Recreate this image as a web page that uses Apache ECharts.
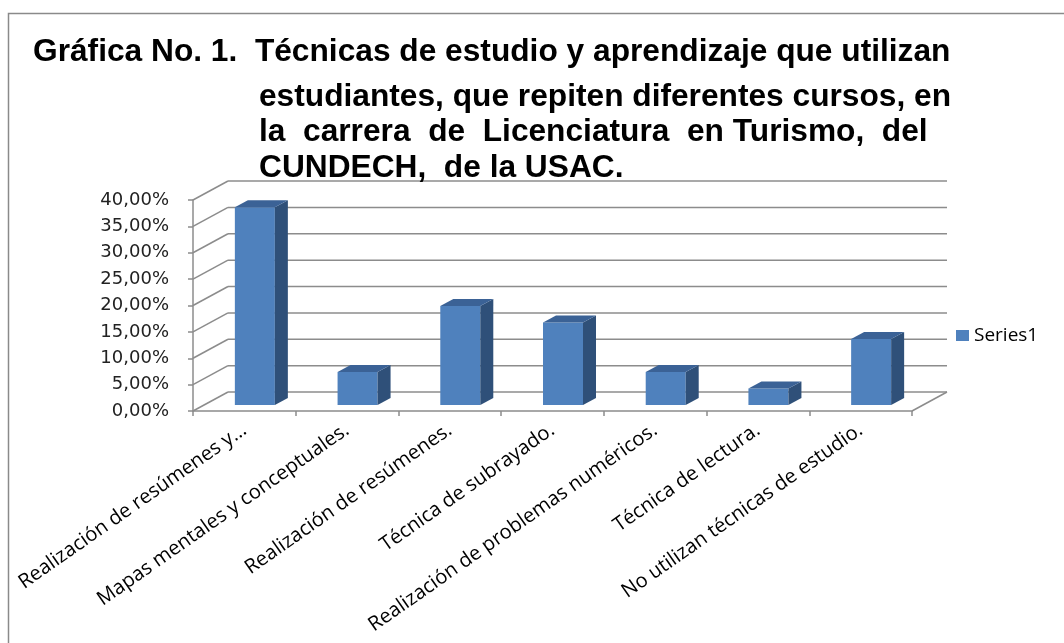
<!DOCTYPE html>
<html lang="es">
<head>
<meta charset="UTF-8">
<title>Gráfica No. 1</title>
<script src="https://cdn.jsdelivr.net/npm/echarts@6/dist/echarts.min.js"></script>
<style>
html, body { margin: 0; padding: 0; background: #fff; }
#chart { width: 1064px; height: 643px; }
</style>
</head>
<body>
<div id="chart"></div>
<script>
// datos
var categorias = [
    'Realización de resúmenes y…',
    'Mapas mentales y conceptuales.',
    'Realización de resúmenes.',
    'Técnica de subrayado.',
    'Realización de problemas numéricos.',
    'Técnica de lectura.',
    'No utilizan técnicas de estudio.'
];
var series1 = [0.375, 0.0625, 0.1875, 0.15625, 0.0625, 0.03125, 0.125];
var yTicks = [0, 0.05, 0.10, 0.15, 0.20, 0.25, 0.30, 0.35, 0.40];

var tituloLineas = [
    'Gráfica No. 1.  Técnicas de estudio y aprendizaje que utilizan',
    'estudiantes, que repiten diferentes cursos, en',
    'la  carrera  de  Licenciatura  en Turismo,  del',
    'CUNDECH,  de la USAC.'
];

// profundidad del "3D"
var DX = 35, DY = -19;
var gridColor = '#8c8c8c';

var chart = echarts.init(document.getElementById('chart'));

function renderWalls(params, api) {
    var cs = params.coordSys;
    var v = api.value(1);
    var y = api.coord([0, v])[1];
    var x0 = cs.x, x1 = cs.x + cs.width;
    var children = [
        { type: 'line', shape: { x1: x0, y1: y, x2: x0 + DX, y2: y + DY },
          style: { stroke: gridColor, lineWidth: 1.5 } },
        { type: 'line', shape: { x1: x0 + DX, y1: y + DY, x2: x1 + DX, y2: y + DY },
          style: { stroke: gridColor, lineWidth: 1.5 } }
    ];
    if (v === 0) {
        children.push({ type: 'line', shape: { x1: x1, y1: y, x2: x1 + DX, y2: y + DY },
            style: { stroke: gridColor, lineWidth: 1.5 } });
    }
    return { type: 'group', children: children };
}

function renderBar(params, api) {
    var i = api.value(0);
    var base = api.coord([i, 0]);
    var top = api.coord([i, api.value(1)]);
    var w = 40, dx = 13, dy = -7;
    var x0 = base[0] - 9.5, x1 = x0 + w;
    var yB = base[1] - 6, yT = top[1] - 6;
    return {
        type: 'group',
        children: [
            { type: 'rect', shape: { x: x0, y: yT, width: w, height: yB - yT },
              style: { fill: '#4F81BD' } },
            { type: 'polygon', shape: { points: [[x1, yT], [x1 + dx, yT + dy], [x1 + dx, yB + dy], [x1, yB]] },
              style: { fill: '#2F5079' } },
            { type: 'polygon', shape: { points: [[x0, yT], [x0 + dx, yT + dy], [x1 + dx, yT + dy], [x1, yT]] },
              style: { fill: '#3B6296' } }
        ]
    };
}

var titleStyle = { fontFamily: 'Liberation Sans', fontWeight: 'bold', fontSize: 31.7, color: '#000' };

var option = {
    animation: false,
    backgroundColor: '#fff',
    title: [
        { text: tituloLineas[0], left: 28, top: 31, textStyle: titleStyle },
        { text: tituloLineas[1], left: 254, top: 76, textStyle: titleStyle },
        { text: tituloLineas[2], left: 254, top: 111, textStyle: titleStyle },
        { text: tituloLineas[3], left: 254, top: 147, textStyle: titleStyle }
    ],
    graphic: [{
        type: 'rect', silent: true, z: -1,
        shape: { x: 8.5, y: 13.5, width: 1100, height: 700 },
        style: { fill: 'none', stroke: '#8a8a8a', lineWidth: 1.5 }
    }],
    legend: {
        data: ['Series1'],
        left: 951, top: 321,
        icon: 'rect', itemWidth: 13, itemHeight: 11, itemGap: 8,
        textStyle: { fontFamily: 'Open Sans', fontSize: 19, color: '#000' }
    },
    grid: { left: 193, top: 200, width: 719, height: 211 },
    xAxis: {
        type: 'category',
        data: categorias,
        axisLine: { lineStyle: { color: gridColor, width: 1.5 } },
        axisTick: { show: true, length: 5, alignWithLabel: false, lineStyle: { color: gridColor, width: 1.5 } },
        axisLabel: { interval: 0, rotate: 35, margin: 17, fontFamily: 'Open Sans', fontSize: 20, color: '#000' },
        splitLine: { show: false }
    },
    yAxis: {
        type: 'value',
        min: 0, max: 0.4, interval: 0.05,
        axisLine: { show: true, lineStyle: { color: gridColor, width: 1.5 } },
        axisTick: { show: true, length: 5, lineStyle: { color: gridColor, width: 1.5 } },
        axisLabel: {
            margin: 24, fontFamily: 'DejaVu Sans', fontSize: 18, color: '#222',
            formatter: function (v) { return (v * 100).toFixed(2).replace('.', ',') + '%'; }
        },
        splitLine: { show: false }
    },
    series: [
        {
            type: 'custom',
            silent: true,
            renderItem: renderWalls,
            data: yTicks.map(function (t) { return [0, t]; }),
            z: 1
        },
        {
            name: 'Series1',
            type: 'custom',
            renderItem: renderBar,
            itemStyle: { color: '#4F81BD' },
            data: series1.map(function (v, i) { return [i, v]; }),
            z: 3
        }
    ]
};

chart.setOption(option);
</script>
</body>
</html>
